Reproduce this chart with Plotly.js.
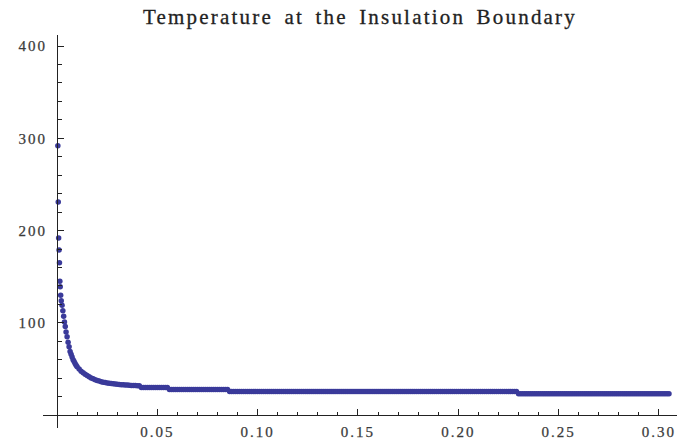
<!DOCTYPE html>
<html>
<head>
<meta charset="utf-8">
<script src="https://cdn.plot.ly/plotly-3.0.1.min.js"></script>
<style>
  html, body { margin: 0; padding: 0; background: #fff; }
  #chart { width: 678px; height: 445px; }
  .gtitle { letter-spacing: 2.2px; word-spacing: 4px; stroke: #222; stroke-width: 0.3px; }
  .xtick text, .ytick text { letter-spacing: 2px; stroke: #3a3a3a; stroke-width: 0.25px; }
</style>
</head>
<body>
<div id="chart"></div>
<script>
// Sample times (s) at the insulation boundary
const time = [
  0.0004, 0.0006, 0.0008, 0.001, 0.0012, 0.0014, 0.0016, 0.0018, 0.0021, 0.0025,
  0.0029, 0.0033, 0.0037, 0.0041, 0.0045, 0.005, 0.0055, 0.006, 0.0065, 0.007,
  0.0075, 0.008, 0.0085, 0.009, 0.0095, 0.010,
  0.011, 0.012, 0.013, 0.014, 0.015, 0.016, 0.017, 0.018, 0.019, 0.020,
  0.021, 0.022, 0.023, 0.024, 0.025, 0.026, 0.027, 0.028, 0.029, 0.030,
  0.031, 0.032, 0.033, 0.034, 0.035, 0.036, 0.037, 0.038, 0.039, 0.040,
  0.041, 0.042, 0.043, 0.044, 0.045, 0.046, 0.047, 0.048, 0.049, 0.050,
  0.051, 0.052, 0.053, 0.054, 0.055, 0.056, 0.057, 0.058, 0.059, 0.060,
  0.061, 0.062, 0.063, 0.064, 0.065, 0.066, 0.067, 0.068, 0.069, 0.070,
  0.071, 0.072, 0.073, 0.074, 0.075, 0.076, 0.077, 0.078, 0.079, 0.080,
  0.081, 0.082, 0.083, 0.084, 0.085, 0.086, 0.087, 0.088, 0.089, 0.090,
  0.091, 0.092, 0.093, 0.094, 0.095, 0.096, 0.097, 0.098, 0.099, 0.100,
  0.101, 0.102, 0.103, 0.104, 0.105, 0.106, 0.107, 0.108, 0.109, 0.110,
  0.111, 0.112, 0.113, 0.114, 0.115, 0.116, 0.117, 0.118, 0.119, 0.120,
  0.121, 0.122, 0.123, 0.124, 0.125, 0.126, 0.127, 0.128, 0.129, 0.130,
  0.131, 0.132, 0.133, 0.134, 0.135, 0.136, 0.137, 0.138, 0.139, 0.140,
  0.141, 0.142, 0.143, 0.144, 0.145, 0.146, 0.147, 0.148, 0.149, 0.150,
  0.151, 0.152, 0.153, 0.154, 0.155, 0.156, 0.157, 0.158, 0.159, 0.160,
  0.161, 0.162, 0.163, 0.164, 0.165, 0.166, 0.167, 0.168, 0.169, 0.170,
  0.171, 0.172, 0.173, 0.174, 0.175, 0.176, 0.177, 0.178, 0.179, 0.180,
  0.181, 0.182, 0.183, 0.184, 0.185, 0.186, 0.187, 0.188, 0.189, 0.190,
  0.191, 0.192, 0.193, 0.194, 0.195, 0.196, 0.197, 0.198, 0.199, 0.200,
  0.201, 0.202, 0.203, 0.204, 0.205, 0.206, 0.207, 0.208, 0.209, 0.210,
  0.211, 0.212, 0.213, 0.214, 0.215, 0.216, 0.217, 0.218, 0.219, 0.220,
  0.221, 0.222, 0.223, 0.224, 0.225, 0.226, 0.227, 0.228, 0.229, 0.230,
  0.231, 0.232, 0.233, 0.234, 0.235, 0.236, 0.237, 0.238, 0.239, 0.240,
  0.241, 0.242, 0.243, 0.244, 0.245, 0.246, 0.247, 0.248, 0.249, 0.250,
  0.251, 0.252, 0.253, 0.254, 0.255, 0.256, 0.257, 0.258, 0.259, 0.260,
  0.261, 0.262, 0.263, 0.264, 0.265, 0.266, 0.267, 0.268, 0.269, 0.270,
  0.271, 0.272, 0.273, 0.274, 0.275, 0.276, 0.277, 0.278, 0.279, 0.280,
  0.281, 0.282, 0.283, 0.284, 0.285, 0.286, 0.287, 0.288, 0.289, 0.290,
  0.291, 0.292, 0.293, 0.294, 0.295, 0.296, 0.297, 0.298, 0.299, 0.300,
  0.301, 0.302, 0.303, 0.304, 0.305
];

// Boundary temperature at each sample time
const temperature = [
  292, 231, 192, 179, 165, 145, 139, 130, 124, 119,
  113, 107, 101, 96, 90, 85, 79, 74, 69, 66,
  63, 60, 58, 56, 54, 52.5,
  50, 47.5, 45.8, 44.2, 42.8, 41.5, 40.3, 39.3, 38.4, 37.6,
  36.9, 36.2, 35.7, 35.3, 34.9, 34.5, 34.2, 33.9, 33.6, 33.4,
  33.2, 33.0, 32.8, 32.6, 32.5, 32.4, 32.2, 32.1, 32.0, 31.9,
  31.8, 30, 30, 30, 30, 30, 30, 30, 30, 30,
  30, 30, 30, 30, 30, 27.8, 27.8, 27.8, 27.8, 27.8,
  27.8, 27.8, 27.8, 27.8, 27.8, 27.8, 27.8, 27.8, 27.8, 27.8,
  27.8, 27.8, 27.8, 27.8, 27.8, 27.8, 27.8, 27.8, 27.8, 27.8,
  27.8, 27.8, 27.8, 27.8, 27.8, 25.6, 25.6, 25.6, 25.6, 25.6,
  25.6, 25.6, 25.6, 25.6, 25.6, 25.6, 25.6, 25.6, 25.6, 25.6,
  25.6, 25.6, 25.6, 25.6, 25.6, 25.6, 25.6, 25.6, 25.6, 25.6,
  25.6, 25.6, 25.6, 25.6, 25.6, 25.6, 25.6, 25.6, 25.6, 25.6,
  25.6, 25.6, 25.6, 25.6, 25.6, 25.6, 25.6, 25.6, 25.6, 25.6,
  25.6, 25.6, 25.6, 25.6, 25.6, 25.6, 25.6, 25.6, 25.6, 25.6,
  25.6, 25.6, 25.6, 25.6, 25.6, 25.6, 25.6, 25.6, 25.6, 25.6,
  25.6, 25.6, 25.6, 25.6, 25.6, 25.6, 25.6, 25.6, 25.6, 25.6,
  25.6, 25.6, 25.6, 25.6, 25.6, 25.6, 25.6, 25.6, 25.6, 25.6,
  25.6, 25.6, 25.6, 25.6, 25.6, 25.6, 25.6, 25.6, 25.6, 25.6,
  25.6, 25.6, 25.6, 25.6, 25.6, 25.6, 25.6, 25.6, 25.6, 25.6,
  25.6, 25.6, 25.6, 25.6, 25.6, 25.6, 25.6, 25.6, 25.6, 25.6,
  25.6, 25.6, 25.6, 25.6, 25.6, 25.6, 25.6, 25.6, 25.6, 25.6,
  25.6, 25.6, 25.6, 25.6, 25.6, 25.6, 25.6, 25.6, 25.6, 25.6,
  25.6, 25.6, 25.6, 25.6, 25.6, 25.6, 25.6, 25.6, 25.6, 23.2,
  23.2, 23.2, 23.2, 23.2, 23.2, 23.2, 23.2, 23.2, 23.2, 23.2,
  23.2, 23.2, 23.2, 23.2, 23.2, 23.2, 23.2, 23.2, 23.2, 23.2,
  23.2, 23.2, 23.2, 23.2, 23.2, 23.2, 23.2, 23.2, 23.2, 23.2,
  23.2, 23.2, 23.2, 23.2, 23.2, 23.2, 23.2, 23.2, 23.2, 23.2,
  23.2, 23.2, 23.2, 23.2, 23.2, 23.2, 23.2, 23.2, 23.2, 23.2,
  23.2, 23.2, 23.2, 23.2, 23.2, 23.2, 23.2, 23.2, 23.2, 23.2,
  23.2, 23.2, 23.2, 23.2, 23.2, 23.2, 23.2, 23.2, 23.2, 23.2,
  23.2, 23.2, 23.2, 23.2, 23.2
];

const xTickVals = [0.05, 0.10, 0.15, 0.20, 0.25, 0.30];
const xTickText = ['0.05', '0.10', '0.15', '0.20', '0.25', '0.30'];
const yTickVals = [100, 200, 300, 400];
const yTickText = ['100', '200', '300', '400'];

const xRange = [-0.007, 0.309];
const yRange = [-14, 412];

const tickFont = { family: 'Liberation Serif, Times New Roman, serif', size: 15, color: '#3a3a3a' };
const axisColor = '#222';

const trace = {
  type: 'scatter',
  mode: 'markers',
  x: time,
  y: temperature,
  marker: { color: '#3a3a9a', size: 5.5, line: { width: 0 } },
  hoverinfo: 'x+y'
};

const layout = {
  width: 678,
  height: 445,
  margin: { l: 43, r: 1, t: 35, b: 17 },
  paper_bgcolor: '#ffffff',
  plot_bgcolor: '#ffffff',
  showlegend: false,
  title: {
    text: 'Temperature at the Insulation Boundary',
    font: { family: 'Liberation Serif, Times New Roman, serif', size: 21, color: '#222' },
    x: 0.5,
    xanchor: 'center',
    y: 0.962,
    yanchor: 'middle',
    xref: 'paper',
    yref: 'container'
  },
  xaxis: {
    range: xRange,
    anchor: 'free',
    // axis drawn through y = 0
    position: (0 - yRange[0]) / (yRange[1] - yRange[0]),
    showline: true,
    linecolor: axisColor,
    linewidth: 1,
    showgrid: false,
    zeroline: false,
    ticks: 'inside',
    ticklen: 6,
    tickwidth: 1,
    tickcolor: axisColor,
    tickmode: 'array',
    tickvals: xTickVals,
    ticktext: xTickText,
    tickfont: tickFont,
    ticklabelstandoff: 3,
    minor: { tickmode: 'linear', tick0: 0, dtick: 0.01, ticks: 'inside', ticklen: 3.5, tickwidth: 1, tickcolor: axisColor, showgrid: false }
  },
  yaxis: {
    range: yRange,
    anchor: 'free',
    // axis drawn through x = 0
    position: (0 - xRange[0]) / (xRange[1] - xRange[0]),
    showline: true,
    linecolor: axisColor,
    linewidth: 1,
    showgrid: false,
    zeroline: false,
    ticks: 'inside',
    ticklen: 6,
    tickwidth: 1,
    tickcolor: axisColor,
    tickmode: 'array',
    tickvals: yTickVals,
    ticktext: yTickText,
    tickfont: tickFont,
    ticklabelstandoff: 7,
    minor: { tickmode: 'linear', tick0: 0, dtick: 20, ticks: 'inside', ticklen: 3.5, tickwidth: 1, tickcolor: axisColor, showgrid: false }
  }
};

Plotly.newPlot('chart', [trace], layout, { displayModeBar: false, staticPlot: true });
</script>
</body>
</html>
